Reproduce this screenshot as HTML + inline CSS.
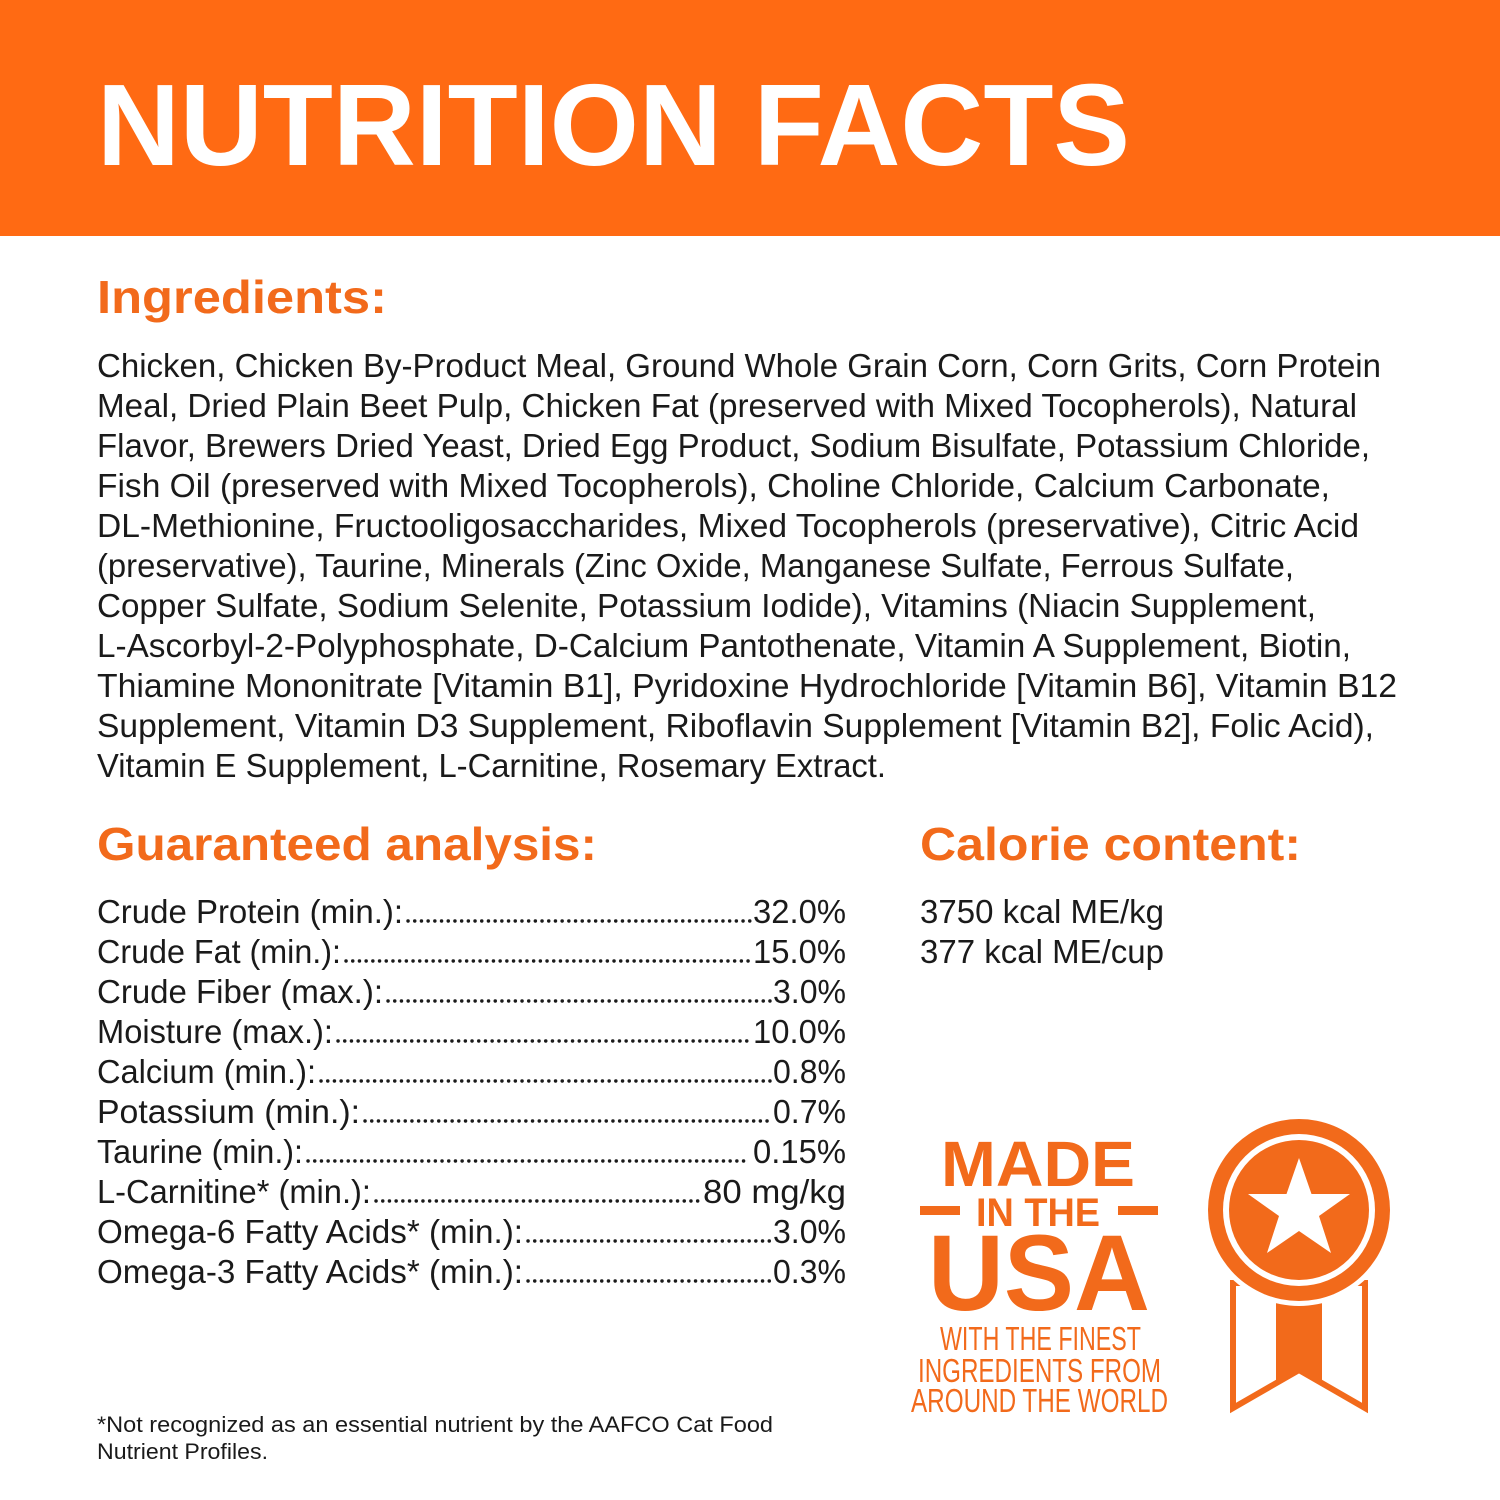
<!DOCTYPE html>
<html><head><meta charset="utf-8"><style>
html,body{margin:0;padding:0;background:#fff}
svg{display:block}
text{font-family:"Liberation Sans",sans-serif}
.b{font-size:33px;fill:#1a1a1a}
.h{font-size:46px;font-weight:bold;fill:#f26a1b}
</style></head><body>
<svg width="1500" height="1500" viewBox="0 0 1500 1500" xmlns="http://www.w3.org/2000/svg">
<rect x="0" y="0" width="1500" height="236" fill="#ff6a13"/>
<text x="97" y="165" font-size="116" font-weight="bold" fill="#fff" textLength="1033" lengthAdjust="spacingAndGlyphs">NUTRITION FACTS</text>

<text class="h" x="97" y="313" textLength="290" lengthAdjust="spacingAndGlyphs">Ingredients:</text>
<g class="b">
<text class="b" x="97" y="377" textLength="1284" lengthAdjust="spacingAndGlyphs">Chicken, Chicken By-Product Meal, Ground Whole Grain Corn, Corn Grits, Corn Protein</text>
<text class="b" x="97" y="417" textLength="1260" lengthAdjust="spacingAndGlyphs">Meal, Dried Plain Beet Pulp, Chicken Fat (preserved with Mixed Tocopherols), Natural</text>
<text class="b" x="97" y="457" textLength="1273" lengthAdjust="spacingAndGlyphs">Flavor, Brewers Dried Yeast, Dried Egg Product, Sodium Bisulfate, Potassium Chloride,</text>
<text class="b" x="97" y="497" textLength="1233" lengthAdjust="spacingAndGlyphs">Fish Oil (preserved with Mixed Tocopherols), Choline Chloride, Calcium Carbonate,</text>
<text class="b" x="97" y="537" textLength="1262" lengthAdjust="spacingAndGlyphs">DL-Methionine, Fructooligosaccharides, Mixed Tocopherols (preservative), Citric Acid</text>
<text class="b" x="97" y="577" textLength="1197" lengthAdjust="spacingAndGlyphs">(preservative), Taurine, Minerals (Zinc Oxide, Manganese Sulfate, Ferrous Sulfate,</text>
<text class="b" x="97" y="617" textLength="1219" lengthAdjust="spacingAndGlyphs">Copper Sulfate, Sodium Selenite, Potassium Iodide), Vitamins (Niacin Supplement,</text>
<text class="b" x="97" y="657" textLength="1254" lengthAdjust="spacingAndGlyphs">L-Ascorbyl-2-Polyphosphate, D-Calcium Pantothenate, Vitamin A Supplement, Biotin,</text>
<text class="b" x="97" y="697" textLength="1300" lengthAdjust="spacingAndGlyphs">Thiamine Mononitrate [Vitamin B1], Pyridoxine Hydrochloride [Vitamin B6], Vitamin B12</text>
<text class="b" x="97" y="737" textLength="1277" lengthAdjust="spacingAndGlyphs">Supplement, Vitamin D3 Supplement, Riboflavin Supplement [Vitamin B2], Folic Acid),</text>
<text class="b" x="97" y="777" textLength="789" lengthAdjust="spacingAndGlyphs">Vitamin E Supplement, L-Carnitine, Rosemary Extract.</text>
</g>

<text class="h" x="97" y="860" textLength="500" lengthAdjust="spacingAndGlyphs">Guaranteed analysis:</text>
<text class="h" x="920" y="860" textLength="381" lengthAdjust="spacingAndGlyphs">Calorie content:</text>

<g stroke="#1a1a1a" stroke-width="3.4" stroke-linecap="round" stroke-dasharray="0.1 6.6" fill="none">
<line x1="408" y1="921" x2="750" y2="921"/>
<line x1="346" y1="961" x2="750" y2="961"/>
<line x1="388" y1="1001" x2="770" y2="1001"/>
<line x1="338" y1="1041" x2="750" y2="1041"/>
<line x1="321" y1="1081" x2="770" y2="1081"/>
<line x1="365" y1="1121" x2="770" y2="1121"/>
<line x1="308" y1="1161" x2="750" y2="1161"/>
<line x1="376" y1="1201" x2="700" y2="1201"/>
<line x1="528" y1="1241" x2="770" y2="1241"/>
<line x1="528" y1="1281" x2="770" y2="1281"/>
</g>
<g>
<text class="b" x="97" y="923" textLength="306" lengthAdjust="spacingAndGlyphs">Crude Protein (min.):</text>
<text class="b" x="97" y="963" textLength="244" lengthAdjust="spacingAndGlyphs">Crude Fat (min.):</text>
<text class="b" x="97" y="1003" textLength="286" lengthAdjust="spacingAndGlyphs">Crude Fiber (max.):</text>
<text class="b" x="97" y="1043" textLength="236" lengthAdjust="spacingAndGlyphs">Moisture (max.):</text>
<text class="b" x="97" y="1083" textLength="219" lengthAdjust="spacingAndGlyphs">Calcium (min.):</text>
<text class="b" x="97" y="1123" textLength="263" lengthAdjust="spacingAndGlyphs">Potassium (min.):</text>
<text class="b" x="97" y="1163" textLength="206" lengthAdjust="spacingAndGlyphs">Taurine (min.):</text>
<text class="b" x="97" y="1203" textLength="274" lengthAdjust="spacingAndGlyphs">L-Carnitine* (min.):</text>
<text class="b" x="97" y="1243" textLength="426" lengthAdjust="spacingAndGlyphs">Omega-6 Fatty Acids* (min.):</text>
<text class="b" x="97" y="1283" textLength="426" lengthAdjust="spacingAndGlyphs">Omega-3 Fatty Acids* (min.):</text>
<text class="b" x="753" y="923" textLength="93" lengthAdjust="spacingAndGlyphs">32.0%</text>
<text class="b" x="753" y="963" textLength="93" lengthAdjust="spacingAndGlyphs">15.0%</text>
<text class="b" x="773" y="1003" textLength="73" lengthAdjust="spacingAndGlyphs">3.0%</text>
<text class="b" x="753" y="1043" textLength="93" lengthAdjust="spacingAndGlyphs">10.0%</text>
<text class="b" x="773" y="1083" textLength="73" lengthAdjust="spacingAndGlyphs">0.8%</text>
<text class="b" x="773" y="1123" textLength="73" lengthAdjust="spacingAndGlyphs">0.7%</text>
<text class="b" x="753" y="1163" textLength="93" lengthAdjust="spacingAndGlyphs">0.15%</text>
<text class="b" x="703" y="1203" textLength="143" lengthAdjust="spacingAndGlyphs">80 mg/kg</text>
<text class="b" x="773" y="1243" textLength="73" lengthAdjust="spacingAndGlyphs">3.0%</text>
<text class="b" x="773" y="1283" textLength="73" lengthAdjust="spacingAndGlyphs">0.3%</text>
</g>

<text class="b" x="920" y="923" textLength="244" lengthAdjust="spacingAndGlyphs">3750 kcal ME/kg</text>
<text class="b" x="920" y="963" textLength="244" lengthAdjust="spacingAndGlyphs">377 kcal ME/cup</text>

<text x="97" y="1432" font-size="22" fill="#1a1a1a" textLength="676" lengthAdjust="spacingAndGlyphs">*Not recognized as an essential nutrient by the AAFCO Cat Food</text>
<text x="97" y="1459" font-size="22" fill="#1a1a1a" textLength="171" lengthAdjust="spacingAndGlyphs">Nutrient Profiles.</text>

<g fill="#f26a1b">
<text x="941" y="1186" font-size="64" font-weight="bold" textLength="194" lengthAdjust="spacingAndGlyphs">MADE</text>
<rect x="920" y="1206" width="40" height="9"/>
<rect x="1118" y="1206" width="40" height="9"/>
<text x="976" y="1226" font-size="40" font-weight="bold" textLength="124" lengthAdjust="spacingAndGlyphs">IN THE</text>
<text x="928" y="1310" font-size="108" font-weight="bold" textLength="222" lengthAdjust="spacingAndGlyphs">USA</text>
<text x="940" y="1350" font-size="33" textLength="201" lengthAdjust="spacingAndGlyphs">WITH THE FINEST</text>
<text x="918" y="1382" font-size="33" textLength="243" lengthAdjust="spacingAndGlyphs">INGREDIENTS FROM</text>
<text x="911" y="1412" font-size="33" textLength="257" lengthAdjust="spacingAndGlyphs">AROUND THE WORLD</text>
</g>

<g>
<polygon fill="none" stroke="#f26a1b" stroke-width="6" points="1233,1283 1233,1408 1299,1370 1365,1408 1365,1283"/>
<polygon fill="#f26a1b" points="1276,1300 1322,1300 1322,1385 1299,1372 1276,1385"/>
<circle cx="1299" cy="1210" r="96" fill="#fff"/>
<circle cx="1299" cy="1210" r="91" fill="#f26a1b"/>
<circle cx="1299" cy="1210" r="76" fill="#fff"/>
<circle cx="1299" cy="1210" r="70" fill="#f26a1b"/>
<polygon fill="#fff" points="1299,1158 1311.5,1194 1350,1194 1319,1216 1331,1253 1299,1231 1267,1253 1279,1216 1248,1194 1286.5,1194"/>
</g>
</svg>
</body></html>
